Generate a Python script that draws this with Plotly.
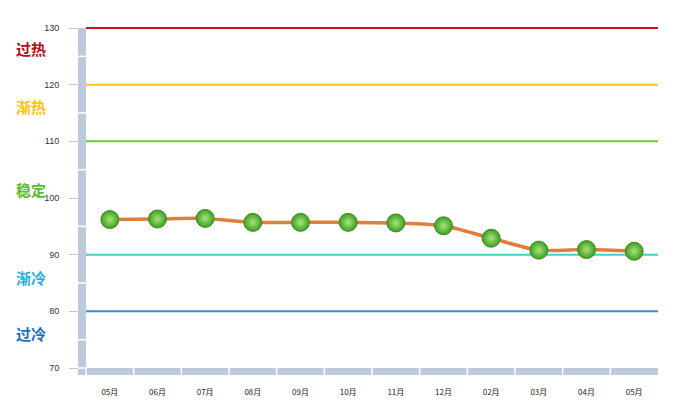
import plotly.graph_objects as go

months = ["05月", "06月", "07月", "08月", "09月", "10月", "11月", "12月", "02月", "03月", "04月", "05月"]
values = [96.2, 96.3, 96.4, 95.7, 95.7, 95.7, 95.6, 95.1, 92.9, 90.8, 90.9, 90.6]

levels = [130, 120, 110, 90, 80]
level_colors = ["#D0101E", "#FFC20E", "#6BCB2E", "#44CFC4", "#3A8DC5"]

band_labels = ["过热", "渐热", "稳定", "渐冷", "过冷"]
band_label_y = [126.4, 116.2, 101.5, 86.0, 76.1]
band_label_colors = ["#B0101C", "#FFC20E", "#5DBB2A", "#27AEE0", "#1D6FB5"]

y_ticks = [70, 80, 90, 100, 110, 120, 130]

# page body has 8px margin; work in figure coordinates
OFF = 8
W, H = 665, 396
L, T = 86 - OFF, 28 - OFF
RIGHT, BOTTOM = 658 - OFF, 368 - OFF
R, B = W - RIGHT, H - BOTTOM
pw = RIGHT - L
ph = BOTTOM - T

def px_x(px):
    return (px - OFF - L) / pw

def px_y(py):
    return (BOTTOM - (py - OFF)) / ph

fig = go.Figure()
xs = list(range(len(months)))
fig.add_trace(go.Scatter(
    x=xs, y=values, mode="lines+markers",
    line=dict(color="#E07F3A", width=3.5, shape="spline", smoothing=0.8),
    marker=dict(size=18, color="#3E9E20",
                gradient=dict(type="radial", color="#A8E67C"),
                line=dict(color="#3A8E1E", width=1)),
    hoverinfo="skip", showlegend=False,
))

shapes = []
for lv, c in zip(levels, level_colors):
    shapes.append(dict(type="line", xref="paper", yref="paper", x0=0, x1=1,
                       y0=(lv - 70) / 60, y1=(lv - 70) / 60,
                       line=dict(color=c, width=2), layer="below"))

bar_col = "#BCCADB"
shapes.append(dict(type="rect", xref="paper", yref="paper", x0=px_x(78), x1=px_x(86),
                   y0=px_y(375), y1=1, fillcolor=bar_col, line=dict(width=0), layer="above"))
shapes.append(dict(type="rect", xref="paper", yref="paper", x0=px_x(78), x1=1,
                   y0=px_y(375), y1=0, fillcolor=bar_col, line=dict(width=0), layer="above"))
for v in [125, 115, 105, 95, 85, 75]:
    yy = (v - 70) / 60
    shapes.append(dict(type="line", xref="paper", yref="paper", x0=px_x(78), x1=px_x(86),
                       y0=yy, y1=yy, line=dict(color="white", width=1.5), layer="above"))
shapes.append(dict(type="line", xref="paper", yref="paper", x0=px_x(78), x1=px_x(86),
                   y0=0, y1=0, line=dict(color="white", width=1.5), layer="above"))
n = len(months)
for k in range(n):
    xx = k / n
    shapes.append(dict(type="line", xref="paper", yref="paper", x0=xx, x1=xx,
                       y0=px_y(375), y1=0, line=dict(color="white", width=1.5), layer="above"))

annotations = []
for t, yv, c in zip(band_labels, band_label_y, band_label_colors):
    annotations.append(dict(text="<b>" + t + "</b>", x=px_x(14), xref="paper", y=yv, yref="y",
                            xanchor="left", yanchor="middle", showarrow=False,
                            font=dict(size=15, color=c, family="Noto Sans CJK SC")))

fig.update_layout(
    width=W, height=H,
    margin=dict(l=L, r=R, t=T, b=B, pad=0, autoexpand=False),
    paper_bgcolor="white", plot_bgcolor="white",
    shapes=shapes, annotations=annotations,
    xaxis=dict(range=[-0.5, n - 0.5], tickmode="array", tickvals=xs, ticktext=months,
               showgrid=False, zeroline=False, showline=False, ticks="", automargin=False,
               tickfont=dict(size=8, color="#222", family="Noto Sans CJK SC"),
               ticklabelstandoff=18, fixedrange=True),
    yaxis=dict(range=[70, 130], tickmode="array", tickvals=y_ticks,
               ticktext=[str(v) for v in y_ticks], automargin=False,
               showgrid=False, zeroline=False, showline=False,
               ticks="outside", ticklen=16, tickcolor="#C8C8C8", tickwidth=1,
               tickfont=dict(size=9, color="#333", family="Arial, Liberation Sans"),
               ticklabelstandoff=8, fixedrange=True),
)

fig.write_html("out.html")
